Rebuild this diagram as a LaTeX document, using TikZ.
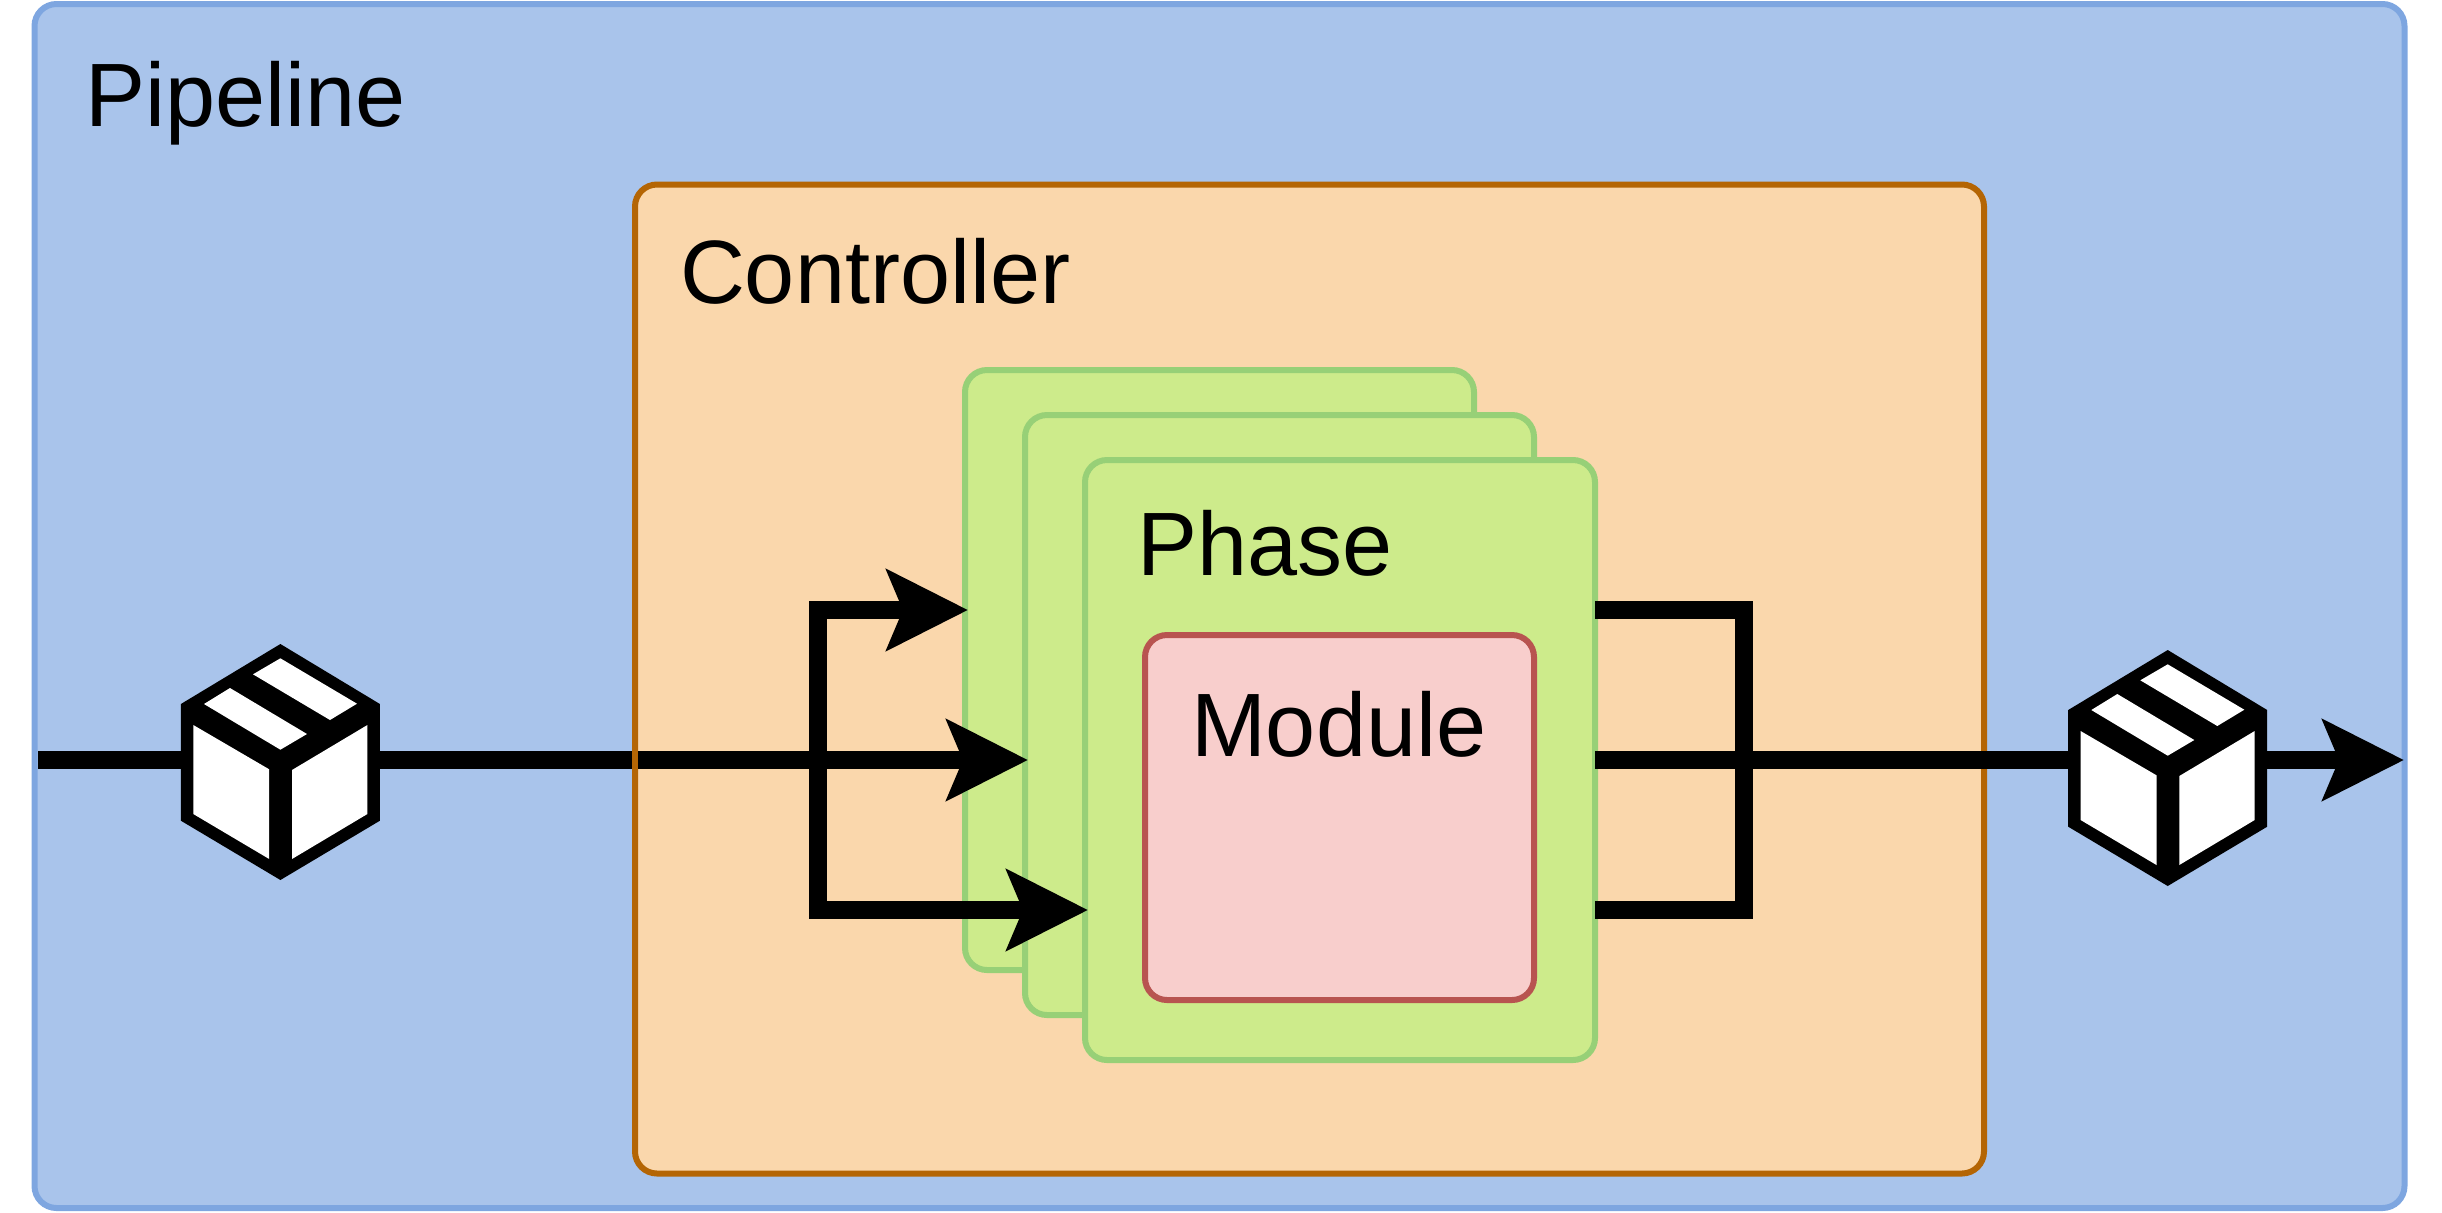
\documentclass[tikz,border=0pt]{standalone}
\usepackage{fontspec}
\setmainfont{Liberation Sans}
\usetikzlibrary{arrows.meta}
\definecolor{pipeF}{HTML}{A9C4EB}\definecolor{pipeD}{HTML}{7EA6E0}
\definecolor{ctrlF}{HTML}{FAD7AC}\definecolor{ctrlD}{HTML}{B46504}
\definecolor{cardF}{HTML}{CDEB8B}\definecolor{cardD}{HTML}{97D077}
\definecolor{modF}{HTML}{F8CECC}\definecolor{modD}{HTML}{B85450}
\tikzset{
  container/.style n args={4}{draw=#2,fill=#1,line width=3pt,rounded corners=11pt,
    minimum width=#3*0.5pt,minimum height=#4*0.5pt,inner sep=0pt,anchor=north west,outer sep=0pt},
  label text/.style={font=\fontsize{45}{54}\selectfont,anchor=base west,inner sep=0pt,outer sep=0pt,text=black},
  flow/.style={line width=9pt,draw=black,line join=miter,line cap=butt},
  flowtip/.style={flow,-{Stealth[length=40.5pt,width=40pt,inset=8pt]}},
  parcel/.pic={
    \fill[black] (-99.5,60) -- (0,0) -- (99.5,60) -- (99.5,176.7) -- (0,236) -- (-99.5,176.7) -- cycle;
    \fill[white] (-87.1,81) -- (-11.2,125.3) -- (-11.2,215) -- (-87.1,170) -- cycle;
    \fill[white] (11.6,126) -- (87,81) -- (87,170) -- (11.6,215) -- cycle;
    \fill[white] (-76.4,60) -- (-50.4,44) -- (26.6,90) -- (0,105.7) -- cycle;
    \fill[white] (-27.4,30.3) -- (0,14.3) -- (76.6,59.7) -- (49.6,76) -- cycle;
  }
}
\begin{document}
\begin{tikzpicture}[x=0.5pt,y=-0.5pt]
\useasboundingbox (0,0) rectangle (2442,1212);
\node[container={pipeF}{pipeD}{2370}{1204}] (pipeline) at (34.5,4) {};
\coordinate (inL2) at (38,760);
\coordinate (outTip) at (2404,760);
\draw[flow] (inL2) -- (640,760);
\node[container={ctrlF}{ctrlD}{1349}{989}] (controller) at (635,184.5) {};
\node[container={cardF}{cardD}{509}{600}] (card1) at (965,370) {};
\node[container={cardF}{cardD}{509}{600}] (card2) at (1025,415) {};
\node[container={cardF}{cardD}{510}{600}] (card3) at (1085,460) {};
\node[container={modF}{modD}{389}{365}] (module) at (1145,635) {};
\node[label text] (tPipe) at (85,126) {Pipeline};
\node[label text] (tCtrl) at (680,303) {Controller};
\node[label text] (tPhase) at (1137,575) {Phase};
\node[label text] (tMod) at (1191,756) {Module};
\coordinate (hubL) at (818,760);
\coordinate (hubR) at (1744,760);
\coordinate (startL) at ([xshift=1.5pt]controller.west |- hubL);
\draw[flowtip] (startL) -- ([xshift=1.5pt]card2.west |- hubL);
\draw[flowtip] (hubL) -- (818,610) -- ([xshift=1.5pt]card1.west |- 0,610);
\draw[flowtip] (hubL) -- (818,910) -- ([xshift=1.5pt]card3.west |- 0,910);
\draw[flow] (card3.east |- 0,610) -- (1744,610) -- (hubR);
\draw[flow] (card3.east |- 0,910) -- (1744,910) -- (hubR);
\draw[flow] (card3.east |- hubR) -- (2110,760);
\draw[flowtip] (2260,760) -- (outTip);
\pic at (280.4,644) {parcel};
\pic at (2167.7,650) {parcel};
\end{tikzpicture}
\end{document}
